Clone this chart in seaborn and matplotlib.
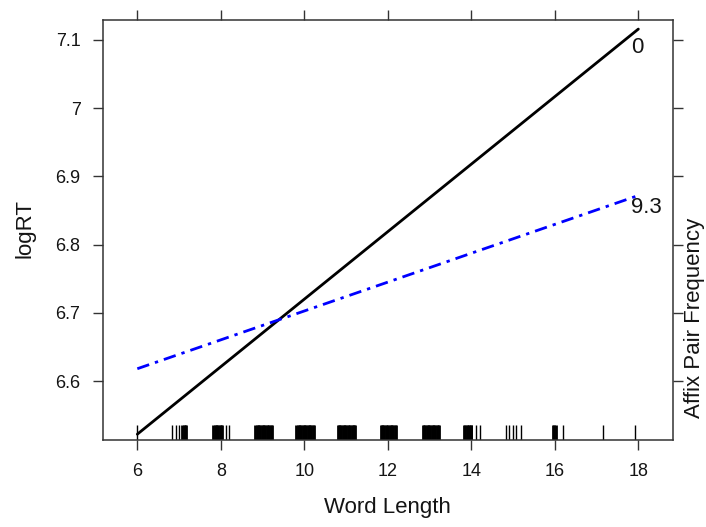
import matplotlib
matplotlib.use("Agg")
import matplotlib.pyplot as plt
import seaborn as sns
import pandas as pd

sns.set_theme(style="white")
plt.rcParams['font.family'] = ['Liberation Sans', 'DejaVu Sans']

# ---- data ----
word_length = [6, 18]
logrt_freq0 = [6.522, 7.116]      # Affix Pair Frequency = 0
logrt_freq93 = [6.618, 6.872]     # Affix Pair Frequency = 9.3
group_labels = ["0", "9.3"]
x_ticks = [6, 8, 10, 12, 14, 16, 18]
y_ticks = [6.6, 6.7, 6.8, 6.9, 7.0, 7.1]
y_tick_labels = ["6.6", "6.7", "6.8", "6.9", "7", "7.1"]
label_y = [7.0897, 6.8544]

# jittered word lengths shown in the rug: isolated values
rug_sparse = [5.99, 6.83, 6.92, 7.00, 8.13, 8.19, 14.10, 14.20,
              14.84, 14.91, 15.00, 15.08, 15.18, 16.20, 17.16, 17.93]
# jittered word lengths shown in the rug: densely packed values
rug_dense = [
    7.08, 7.11, 7.14, 7.17,
    7.82, 7.85, 7.88, 7.91, 7.94, 7.97, 8.00, 8.03,
    8.83, 8.86, 8.89, 8.92, 8.95, 8.98, 9.01, 9.04, 9.07, 9.10, 9.13, 9.16, 9.19, 9.22,
    9.81, 9.84, 9.87, 9.90, 9.93, 9.96, 9.99, 10.02, 10.05, 10.08, 10.11, 10.14, 10.17, 10.20, 10.23,
    10.80, 10.83, 10.86, 10.89, 10.92, 10.95, 10.98, 11.01, 11.04, 11.07, 11.10, 11.13, 11.16, 11.19, 11.21,
    11.83, 11.86, 11.89, 11.92, 11.95, 11.98, 12.01, 12.04, 12.07, 12.10, 12.13, 12.16, 12.19,
    12.84, 12.87, 12.90, 12.93, 12.96, 12.99, 13.02, 13.05, 13.08, 13.11, 13.14, 13.17, 13.20, 13.23,
    13.83, 13.86, 13.89, 13.92, 13.95, 13.98, 14.00,
    15.95, 15.98, 16.02,
]

df = pd.DataFrame({
    "Word Length": word_length * 2,
    "logRT": logrt_freq0 + logrt_freq93,
    "Affix Pair Frequency": [group_labels[0]] * 2 + [group_labels[1]] * 2,
})

fig = plt.figure(figsize=(7.06, 5.27), dpi=100)
ax = fig.add_axes([103 / 706, 87 / 527, 570 / 706, 420 / 527])

sns.lineplot(
    data=df, x="Word Length", y="logRT",
    hue="Affix Pair Frequency", style="Affix Pair Frequency",
    palette={"0": "black", "9.3": "#0000ff"},
    dashes={"0": "", "9.3": (4.5, 2.2, 1.2, 2.2)},
    linewidth=2.0, legend=False, ax=ax,
)

sns.rugplot(x=rug_sparse, height=0.036, color="black", linewidth=1.0, ax=ax)
sns.rugplot(x=rug_dense, height=0.036, color="black", linewidth=2.0, ax=ax)

ax.set_xlim(5.178, 18.83)
ax.set_ylim(6.5135, 7.1293)

ax.set_xticks(x_ticks)
ax.set_xticklabels([str(t) for t in x_ticks])
ax.set_yticks(y_ticks)
ax.set_yticklabels(y_tick_labels)

text_color = "#141414"
ax.tick_params(axis="both", which="both", direction="out", length=7.2, width=1.0,
               color="#333333", labelsize=13, labelcolor=text_color, pad=9.0,
               bottom=True, left=True, top=True, right=True,
               labeltop=False, labelright=False)

for sp in ax.spines.values():
    sp.set_visible(True)
    sp.set_color("#333333")
    sp.set_linewidth(1.1)

ax.set_xlabel("Word Length", fontsize=16, color=text_color)
ax.xaxis.set_label_coords((387.5 - 103) / 570, (440 - 508) / 420)
ax.xaxis.label.set_va("center")
ax.set_ylabel("logRT", fontsize=16, color=text_color)
ax.yaxis.set_label_coords((25 - 103) / 570, (440 - 229) / 420)
ax.yaxis.label.set_va("center")

ax.text((695 - 103) / 570, (440 - 318) / 420, "Affix Pair Frequency",
        rotation=90, ha="center", va="center", fontsize=16, color=text_color,
        transform=ax.transAxes)

for lab, yv in zip(group_labels, label_y):
    ax.text(17.83, yv, lab, ha="left", va="center", fontsize=16, color=text_color)

fig.savefig("out.png", dpi=100)
